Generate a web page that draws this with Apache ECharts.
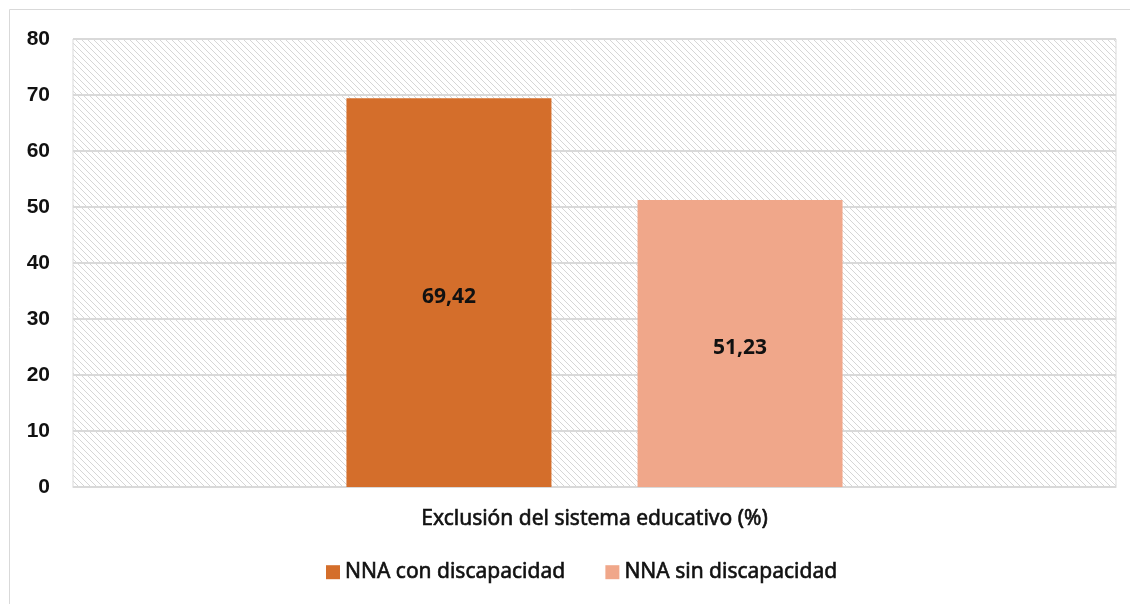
<!DOCTYPE html>
<html>
<head>
<meta charset="utf-8">
<script src="https://cdn.jsdelivr.net/npm/echarts@6/dist/echarts.min.js"></script>
<style>
html, body { margin: 0; padding: 0; background: #fff; }
#chart { width: 1130px; height: 604px; }
</style>
</head>
<body>
<div id="chart"></div>
<script>
// datos
var categories = ['Exclusión del sistema educativo (%)'];
var seriesNames = ['NNA con discapacidad', 'NNA sin discapacidad'];
var conDiscapacidad = [69.42];
var sinDiscapacidad = [51.23];
var yTicks = [0, 10, 20, 30, 40, 50, 60, 70, 80];

// trama diagonal del fondo
function makeHatch() {
  var c = document.createElement('canvas');
  c.width = 6; c.height = 6;
  var ctx = c.getContext('2d');
  ctx.fillStyle = '#ffffff';
  ctx.fillRect(0, 0, 6, 6);
  ctx.fillStyle = '#d6d6d6';
  for (var i = 0; i < 6; i++) {
    ctx.fillRect(i, i, 1, 1);
  }
  return c;
}

var myChart = echarts.init(document.getElementById('chart'));
var font = 'Noto Sans';

function etiqueta(p) {
  return p.value.toFixed(2).replace('.', ',');
}

myChart.setOption({
  animation: false,
  textStyle: { fontFamily: font },
  graphic: [{
    type: 'rect',
    shape: { x: 9.5, y: 9.5, width: 1400, height: 800 },
    style: { fill: 'none', stroke: '#d9d9d9', lineWidth: 1 },
    z: -10
  }],
  grid: {
    left: 73, right: 14, top: 39, bottom: 117,
    show: true,
    backgroundColor: { image: makeHatch(), repeat: 'repeat' },
    borderColor: '#d9d9d9',
    borderWidth: 1
  },
  legend: {
    bottom: 16,
    left: 321,
    itemWidth: 14,
    itemHeight: 14,
    itemGap: 40,
    icon: 'rect',
    textStyle: {
      fontSize: 21, color: '#111', fontFamily: font,
      textBorderColor: '#111', textBorderWidth: 0.6
    }
  },
  xAxis: {
    type: 'category',
    data: categories,
    axisLine: { lineStyle: { color: '#d9d9d9' } },
    axisTick: { show: false },
    axisLabel: {
      fontSize: 21, color: '#111', margin: 22, fontFamily: font,
      textBorderColor: '#111', textBorderWidth: 0.6
    }
  },
  yAxis: {
    type: 'value',
    min: 0, max: 80, interval: 10,
    axisLine: { show: false },
    axisTick: { show: false },
    splitLine: { lineStyle: { color: '#d9d9d9', width: 2 } },
    axisLabel: {
      fontSize: 21, fontWeight: 'bold', color: '#111', margin: 23, fontFamily: 'Liberation Sans',
      formatter: function (v) { return yTicks.indexOf(v) >= 0 ? String(v) : ''; }
    }
  },
  series: [
    {
      name: seriesNames[0],
      type: 'bar',
      data: conDiscapacidad,
      barWidth: 205,
      barGap: '42%',
      itemStyle: { color: '#d46e2b' },
      label: {
        show: true, position: 'inside', offset: [0, 4], fontSize: 21, fontWeight: 'bold', color: '#111', fontFamily: font,
        formatter: etiqueta
      }
    },
    {
      name: seriesNames[1],
      type: 'bar',
      data: sinDiscapacidad,
      barWidth: 205,
      barGap: '42%',
      itemStyle: { color: '#f0a78a' },
      label: {
        show: true, position: 'inside', offset: [0, 4], fontSize: 21, fontWeight: 'bold', color: '#111', fontFamily: font,
        formatter: etiqueta
      }
    }
  ]
});

window.addEventListener('resize', function () { myChart.resize(); });
</script>
</body>
</html>
